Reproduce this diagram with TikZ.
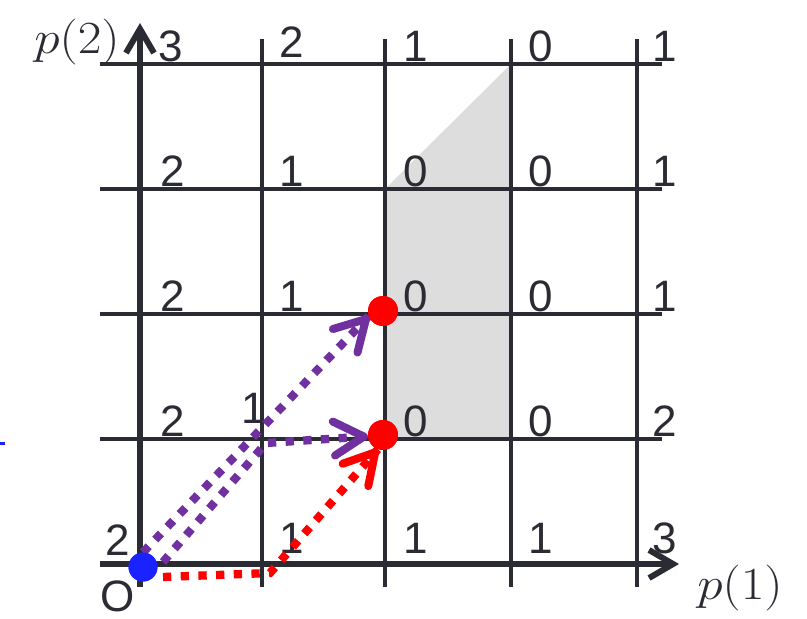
\documentclass[tikz,border=0pt]{standalone}
\usepackage{fix-cm}
\usepackage[no-math]{fontspec}
\setmainfont{Liberation Sans}
\usetikzlibrary{arrows.meta,calc}
\definecolor{ink}{RGB}{43,43,51}
\definecolor{purp}{RGB}{112,48,160}
\definecolor{shadegray}{RGB}{221,221,221}
\definecolor{bdot}{RGB}{26,34,255}
\begin{document}
\begin{tikzpicture}[x=1pt,y=-1pt,
  gridline/.style={draw=ink,line width=4.5pt},
  axisline/.style={draw=ink,line width=6pt,-{Straight Barb[length=24pt,width=28pt,line width=6pt]}},
  val/.style={font=\fontsize{44}{48}\selectfont,text=ink,anchor=base,inner sep=0pt},
  axlab/.style={font=\fontsize{46}{50}\selectfont,text=ink,inner sep=0pt,anchor=base,xscale=1.12},
  dotline/.style={line width=8.3pt,dash pattern=on 8.3pt off 9.4pt,line cap=butt},
  tipp/.style={-{Straight Barb[length=30pt,width=34pt,line width=8pt,round]}},
  ptdot/.style={circle,inner sep=0pt,minimum size=#1}]
\useasboundingbox (0,0) rectangle (807,619);
% shaded region
\fill[shadegray] (385,439) -- (385,189) -- (511,64) -- (511,439) -- cycle;
% grid
\foreach \y in {64,189,314,439} \draw[gridline] (100,\y) -- (662,\y);
\foreach \x in {262,385,511,637} \draw[gridline] (\x,39) -- (\x,587);
% axes
\coordinate (xs) at (100,564);
\coordinate (xe) at (679,564);
\coordinate (ys) at (140,587);
\coordinate (ye) at (140,23);
\draw[axisline] (xs) -- (xe);
\draw[axisline] (ys) -- (ye);
% values
\node[val] (v00) at (171,61) {3};
\node[val] (v10) at (292,57) {2};
\node[val] (v20) at (416,61) {1};
\node[val] (v30) at (541,61) {0};
\node[val] (v40) at (665,61) {1};
\node[val] (v01) at (173,186) {2};
\node[val] (v11) at (292,186) {1};
\node[val] (v21) at (416,186) {0};
\node[val] (v31) at (541,186) {0};
\node[val] (v41) at (665,186) {1};
\node[val] (v02) at (173,311) {2};
\node[val] (v12) at (292,311) {1};
\node[val] (v22) at (416,311) {0};
\node[val] (v32) at (541,311) {0};
\node[val] (v42) at (665,311) {1};
\node[val] (v03) at (173,436) {2};
\node[val] (v13) at (254,423) {1};
\node[val] (v23) at (416,436) {0};
\node[val] (v33) at (541,436) {0};
\node[val] (v43) at (665,436) {2};
\node[val] (v04) at (118,555) {2};
\node[val] (v14) at (292,553) {1};
\node[val] (v24) at (416,553) {1};
\node[val] (v34) at (541,553) {1};
\node[val] (v44) at (665,553) {3};
\node[val] (orig) at (118,611) {O};
\node[axlab] (p2) at (77,53) {$p(2)$};
\node[axlab] (p1) at (740,599) {$p(1)$};
% small blue mark
\draw[bdot,line width=3pt] (0,443) -- (5,443);
% points
\node[ptdot=29pt,fill=bdot] (b) at (143,567) {};
\node[ptdot=30pt,fill=red] (r1) at (383,311) {};
\node[ptdot=30pt,fill=red] (r2) at (383,435) {};
% paths
\coordinate (c1) at (266,443);
\coordinate (c2) at (270,573);
\coordinate (s2) at (163,562);
\coordinate (s3) at (163,577);
\draw[purp,dotline] (b.north) -- (r1.200);
\draw[purp,dotline] (s2) -- (c1) -- (r2.185);
\draw[red,dotline] (s3) -- (c2) -- (r2.250);
% arrow heads
\draw[purp,tipp] ($(r1.200)!1pt!(b.north)$) -- (r1.200);
\draw[purp,tipp] ($(r2.185)!1pt!(c1)$) -- (r2.185);
\draw[red,tipp] ($(r2.250)!1pt!(c2)$) -- (r2.250);
\node[ptdot=30pt,fill=red] at (r1) {};
\node[ptdot=30pt,fill=red] at (r2) {};
\node[ptdot=29pt,fill=bdot] at (b) {};
\end{tikzpicture}
\end{document}
